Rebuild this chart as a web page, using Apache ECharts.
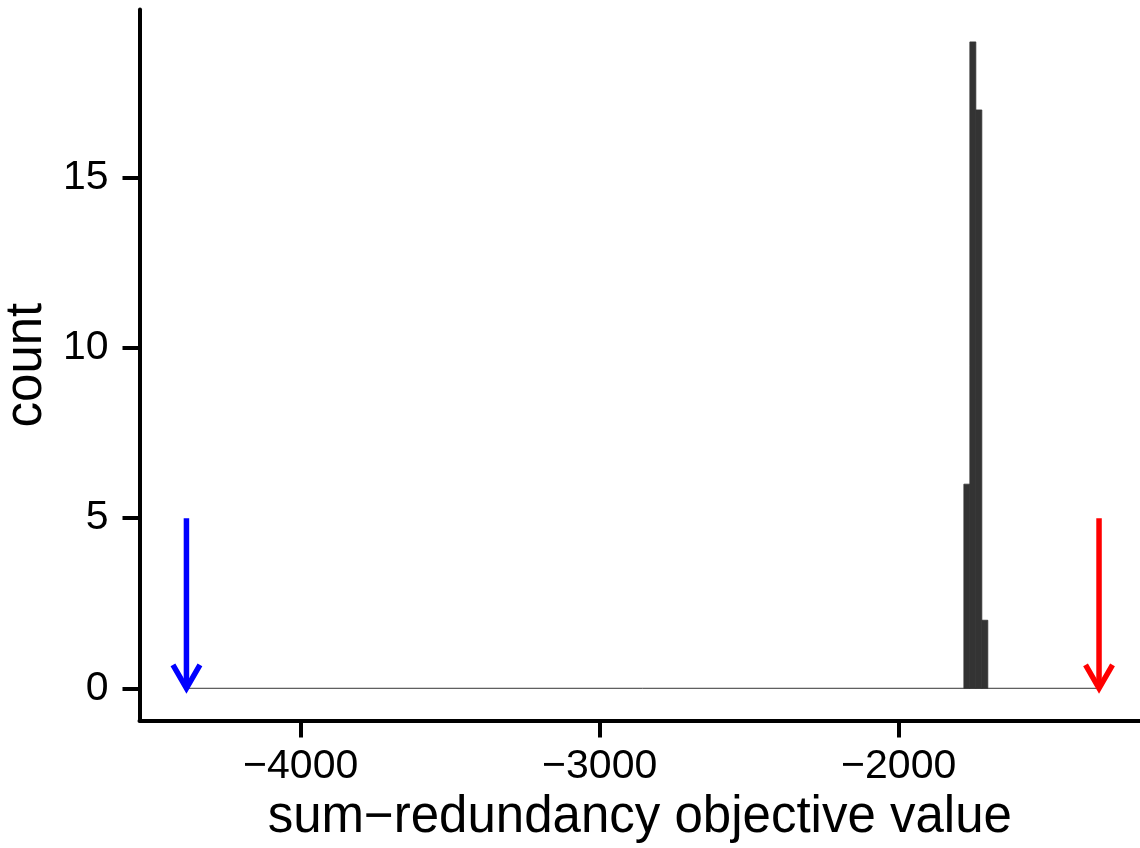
<!DOCTYPE html>
<html>
<head>
<meta charset="utf-8">
<script src="https://cdn.jsdelivr.net/npm/echarts@6/dist/echarts.min.js"></script>
<style>html,body{margin:0;padding:0;background:#fff}#chart{width:1140px;height:848px}</style>
</head>
<body>
<div id="chart"></div>
<script>
// ---- data ----
const binStarts = [-1782, -1762, -1742, -1722];   // histogram bin left edges
const binWidth = 20;
const binCounts = [6, 19, 17, 2];
const zeroBaseline = [[-4382, 0], [-1330, 0]];    // span of zero-count bins
const arrowBlueX = -4382;                        // blue arrow position
const arrowRedX = -1330;                         // red arrow position
const arrowTop = 5;
const xTicks = [-4000, -3000, -2000];
const yTicks = [0, 5, 10, 15];
const xRange = [-4539, -1193];
const yRange = [-0.95, 19.95];

const FONT = '"Liberation Sans", Arial, Helvetica, sans-serif';
const chart = echarts.init(document.getElementById('chart'), null, {renderer: 'canvas'});

const barData = binStarts.map((s, i) => [s, s + binWidth, binCounts[i]]);
const arrowData = [
  {value: [arrowBlueX, arrowTop, 0], itemStyle: {color: '#0000FF'}},
  {value: [arrowRedX, arrowTop, 0], itemStyle: {color: '#FF0000'}}
];
const fmt = v => String(v).replace('-', '\u2212');

chart.setOption({
  animation: false,
  backgroundColor: '#ffffff',
  grid: {left: 139.5, right: 0, top: 9.6, bottom: 127.4, containLabel: false, outerBoundsMode: 'none'},
  xAxis: {
    type: 'value', min: xRange[0], max: xRange[1],
    name: 'sum\u2212redundancy objective value', nameLocation: 'middle', nameGap: 72,
    nameTextStyle: {fontFamily: FONT, fontSize: 51, color: '#000'},
    axisLine: {show: true, onZero: false, lineStyle: {color: '#000', width: 4}},
    axisTick: {show: true, length: 17, lineStyle: {color: '#000', width: 4}, customValues: xTicks},
    axisLabel: {fontFamily: FONT, fontSize: 41, color: '#000', margin: 26, customValues: xTicks, formatter: fmt},
    splitLine: {show: false}
  },
  yAxis: {
    type: 'value', min: yRange[0], max: yRange[1],
    name: 'count', nameLocation: 'middle', nameGap: 79, nameRotate: 90,
    nameTextStyle: {fontFamily: FONT, fontSize: 51, color: '#000'},
    axisLine: {show: true, onZero: false, lineStyle: {color: '#000', width: 4}},
    axisTick: {show: true, length: 17, lineStyle: {color: '#000', width: 4}, customValues: yTicks},
    axisLabel: {fontFamily: FONT, fontSize: 41, color: '#000', margin: 31, customValues: yTicks, formatter: fmt},
    splitLine: {show: false}
  },
  series: [
    {
      type: 'line', data: zeroBaseline, symbol: 'none',
      lineStyle: {color: '#333333', width: 1}, z: 1, silent: true
    },
    {
      type: 'custom', z: 2,
      renderItem: function (params, api) {
        const p0 = api.coord([api.value(0), 0]);
        const p1 = api.coord([api.value(1), api.value(2)]);
        return {
          type: 'rect',
          shape: {x: p0[0], y: p1[1], width: p1[0] - p0[0], height: p0[1] - p1[1]},
          style: {fill: '#333333', stroke: '#333333', lineWidth: 0.8}
        };
      },
      encode: {x: [0, 1], y: 2},
      data: barData
    },
    {
      type: 'custom', z: 3,
      renderItem: function (params, api) {
        const top = api.coord([api.value(0), api.value(1)]);
        const tip = api.coord([api.value(0), api.value(2)]);
        const color = api.visual('color');
        const hl = 27, ang = Math.PI / 6;
        const dx = hl * Math.sin(ang), dy = hl * Math.cos(ang);
        return {
          type: 'group',
          children: [
            {type: 'line', shape: {x1: top[0], y1: top[1], x2: tip[0], y2: tip[1] - 2},
             style: {stroke: color, lineWidth: 5.5, lineCap: 'butt'}},
            {type: 'polyline', shape: {points: [[tip[0] - dx, tip[1] - dy], [tip[0], tip[1]], [tip[0] + dx, tip[1] - dy]]},
             style: {stroke: color, lineWidth: 5.5, fill: null, lineJoin: 'miter', lineCap: 'butt'}}
          ]
        };
      },
      encode: {x: 0, y: [1, 2]},
      data: arrowData
    }
  ]
});
</script>
</body>
</html>
